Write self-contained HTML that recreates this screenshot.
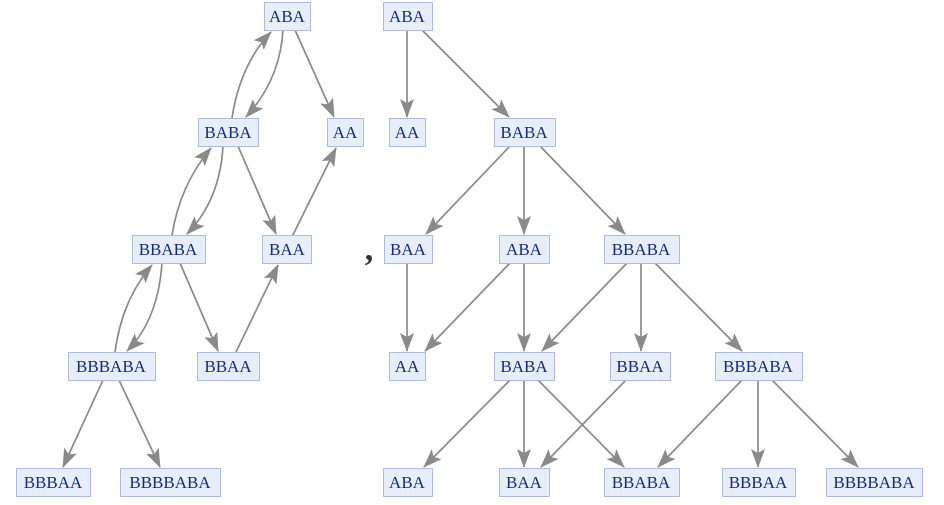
<!DOCTYPE html>
<html><head><meta charset="utf-8"><style>
body{margin:0;background:#fff;width:944px;height:500px;overflow:hidden}
svg text{font-family:"Liberation Serif",serif;font-size:17px;fill:#142c7e;text-anchor:middle}
.n{fill:#e8eef9;stroke:#a8bde6;stroke-width:1}
.e{stroke:#8a8a8a;stroke-width:1.7;fill:none;marker-end:url(#a)}
</style></head><body>
<svg width="944" height="500" viewBox="0 0 944 500">
<defs><marker id="a" markerUnits="userSpaceOnUse" markerWidth="20" markerHeight="14" refX="18" refY="7" orient="auto"><path d="M0,0 L19,7 L0,14 L4,7 Z" fill="#8a8a8a"/></marker></defs>
<path class="e" d="M232,118 Q240,65 271,32"/>
<path class="e" d="M283,30 Q280,80 246,117"/>
<path class="e" d="M295,30 L334,117"/>
<path class="e" d="M238,146 L276,234"/>
<path class="e" d="M172,235 Q180,185 211,148"/>
<path class="e" d="M223,146 Q220,200 187,234"/>
<path class="e" d="M279,263 L336,148"/>
<path class="e" d="M180,263 L218,351"/>
<path class="e" d="M115,352 Q122,300 152,265"/>
<path class="e" d="M162,263 Q158,320 127,351"/>
<path class="e" d="M236,352 L278,265"/>
<path class="e" d="M103,380 L63,467"/>
<path class="e" d="M119,380 L160,467"/>
<path class="e" d="M407,30 L407,117"/>
<path class="e" d="M422,30 L509,117"/>
<path class="e" d="M510,146 L426,234"/>
<path class="e" d="M524,146 L524,234"/>
<path class="e" d="M540,146 L625,234"/>
<path class="e" d="M407,263 L407,351"/>
<path class="e" d="M510,263 L425,351"/>
<path class="e" d="M524,263 L524,351"/>
<path class="e" d="M627,263 L542,351"/>
<path class="e" d="M641,263 L641,351"/>
<path class="e" d="M655,263 L742,351"/>
<path class="e" d="M510,380 L424,467"/>
<path class="e" d="M524,380 L524,467"/>
<path class="e" d="M538,380 L624,467"/>
<path class="e" d="M626,380 L541,467"/>
<path class="e" d="M742,380 L658,467"/>
<path class="e" d="M758,380 L758,467"/>
<path class="e" d="M772,380 L858,467"/>
<rect class="n" x="264.5" y="2.5" width="46" height="28"/><text x="287" y="22">ABA</text>
<rect class="n" x="198.5" y="118.5" width="60" height="28"/><text x="228" y="138">BABA</text>
<rect class="n" x="327.5" y="118.5" width="36" height="28"/><text x="345" y="138">AA</text>
<rect class="n" x="132.5" y="235.5" width="73" height="28"/><text x="168" y="255">BBABA</text>
<rect class="n" x="262.5" y="235.5" width="49" height="28"/><text x="287" y="255">BAA</text>
<rect class="n" x="68.5" y="352.5" width="87" height="28"/><text x="111" y="372">BBBABA</text>
<rect class="n" x="197.5" y="352.5" width="62" height="28"/><text x="228" y="372">BBAA</text>
<rect class="n" x="16.5" y="468.5" width="74" height="28"/><text x="53" y="488">BBBAA</text>
<rect class="n" x="120.5" y="468.5" width="100" height="28"/><text x="170" y="488">BBBBABA</text>
<text x="369" y="260" style="font-size:34px;font-weight:bold;fill:#333">,</text>
<rect class="n" x="383.5" y="2.5" width="49" height="28"/><text x="407" y="22">ABA</text>
<rect class="n" x="389.5" y="118.5" width="36" height="28"/><text x="407" y="138">AA</text>
<rect class="n" x="494.5" y="118.5" width="61" height="28"/><text x="524" y="138">BABA</text>
<rect class="n" x="384.5" y="235.5" width="48" height="28"/><text x="408" y="255">BAA</text>
<rect class="n" x="499.5" y="235.5" width="50" height="28"/><text x="524" y="255">ABA</text>
<rect class="n" x="604.5" y="235.5" width="75" height="28"/><text x="641" y="255">BBABA</text>
<rect class="n" x="389.5" y="352.5" width="36" height="28"/><text x="407" y="372">AA</text>
<rect class="n" x="494.5" y="352.5" width="60" height="28"/><text x="524" y="372">BABA</text>
<rect class="n" x="610.5" y="352.5" width="60" height="28"/><text x="640" y="372">BBAA</text>
<rect class="n" x="715.5" y="352.5" width="87" height="28"/><text x="758" y="372">BBBABA</text>
<rect class="n" x="383.5" y="468.5" width="49" height="28"/><text x="407" y="488">ABA</text>
<rect class="n" x="499.5" y="468.5" width="50" height="28"/><text x="524" y="488">BAA</text>
<rect class="n" x="604.5" y="468.5" width="75" height="28"/><text x="641" y="488">BBABA</text>
<rect class="n" x="722.5" y="468.5" width="73" height="28"/><text x="758" y="488">BBBAA</text>
<rect class="n" x="826.5" y="468.5" width="96" height="28"/><text x="874" y="488">BBBBABA</text>
</svg>
</body></html>
